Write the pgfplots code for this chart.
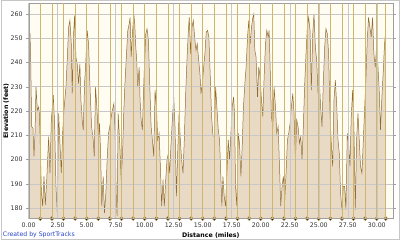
\documentclass[border=0pt]{standalone}
\usepackage{pgfplots}
\pgfplotsset{compat=1.18}
\usepackage{pgfplotstable}
\usepackage{fontspec}
\setmainfont{DejaVu Sans}
\definecolor{plotbg}{RGB}{255,253,242}
\definecolor{areafill}{RGB}{229,213,190}
\definecolor{arealine}{RGB}{145,108,50}
\definecolor{gold}{RGB}{208,182,108}
\definecolor{gridgray}{RGB}{200,200,200}
\definecolor{mkfill}{RGB}{228,205,100}
\definecolor{credit}{RGB}{40,70,200}
\pgfplotstableread{
x y
0.00 253.4
0.115 251.8
0.172 240.9
0.258 213.6
0.37 212.9
0.458 201.3
0.544 210.8
0.63 230.2
0.745 220.4
0.86 221.7
0.917 219.0
0.974 210.8
1.09 186.9
1.204 180.8
1.318 193.1
1.433 181.4
1.548 191.0
1.72 209.5
1.834 194.4
1.949 216.3
2.12 226.5
2.235 214.9
2.35 189.0
2.465 178.0
2.58 219.0
2.694 206.7
2.81 194.4
2.923 210.8
3.038 220.4
3.21 229.9
3.32 240.9
3.44 254.5
3.55 257.3
3.67 247.7
3.75 227.2
3.87 251.8
3.955 259.3
4.07 242.2
4.18 239.5
4.3 231.3
4.41 239.5
4.5 224.5
4.61 216.3
4.7 212.2
4.815 231.3
4.93 240.9
5.04 253.2
5.16 247.7
5.27 231.3
5.42 213.6
5.56 208.1
5.65 201.3
5.76 229.9
5.875 221.7
6.02 208.1
6.1 214.9
6.19 204.0
6.3 180.8
6.42 193.1
6.53 178.0
6.65 186.2
6.76 199.9
6.88 210.8
6.99 213.6
7.11 217.7
7.22 220.4
7.34 223.1
7.45 210.8
7.54 186.2
7.62 176.7
7.71 219.0
7.85 206.7
7.97 191.7
8.08 201.3
8.2 220.4
8.31 232.7
8.43 243.6
8.54 253.2
8.66 255.9
8.74 258.6
8.83 242.2
8.94 251.8
9.06 260.0
9.14 255.9
9.23 246.3
9.31 240.9
9.4 229.9
9.52 238.1
9.6 224.5
9.69 216.3
9.8 212.2
9.89 227.2
9.97 238.1
10.09 251.8
10.2 253.9
10.32 249.1
10.43 231.3
10.55 213.6
10.66 208.1
10.78 201.3
10.89 228.6
11.01 221.7
11.12 208.1
11.24 210.8
11.35 197.2
11.46 180.8
11.58 191.7
11.69 180.8
11.81 191.7
11.92 199.9
12.04 202.6
12.15 194.4
12.27 206.7
12.38 216.3
12.5 225.8
12.61 213.6
12.73 184.9
12.84 202.6
12.96 219.0
13.07 208.1
13.18 199.9
13.3 194.4
13.41 208.1
13.53 227.2
13.64 240.9
13.76 253.2
13.84 258.6
13.96 243.6
14.07 254.5
14.19 257.3
14.3 250.4
14.42 245.0
14.53 247.7
14.65 240.9
14.76 235.4
14.85 227.2
14.96 231.3
15.08 238.1
15.19 243.6
15.3 252.5
15.42 253.2
15.53 250.4
15.65 234.0
15.76 218.0
15.88 210.0
15.99 209.5
16.11 229.9
16.22 221.7
16.34 212.2
16.45 208.1
16.57 191.7
16.65 180.8
16.74 193.1
16.85 184.9
16.97 180.8
17.08 194.4
17.2 208.1
17.31 199.9
17.43 210.8
17.54 221.7
17.66 225.8
17.74 219.0
17.83 189.0
17.94 180.8
18.06 210.8
18.17 206.7
18.29 193.1
18.4 205.4
18.51 221.7
18.63 231.3
18.74 238.1
18.86 250.4
18.97 257.3
19.09 247.7
19.2 254.5
19.32 258.6
19.4 260.0
19.49 245.0
19.6 242.2
19.72 225.8
19.83 238.1
19.95 234.0
20.06 224.5
20.18 217.7
20.29 234.0
20.41 247.7
20.52 253.2
20.64 250.4
20.72 253.2
20.81 238.1
20.92 217.7
21.04 213.6
21.15 229.9
21.27 221.7
21.38 210.8
21.5 213.6
21.61 198.5
21.72 180.8
21.84 189.0
21.95 193.1
22.07 183.5
22.18 194.4
22.3 208.1
22.41 210.8
22.53 214.9
22.64 221.7
22.76 227.2
22.87 219.0
22.99 199.9
23.1 216.3
23.22 213.6
23.33 206.7
23.45 209.5
23.56 199.9
23.67 213.6
23.79 231.3
23.9 243.6
24.02 254.5
24.13 258.6
24.25 253.2
24.36 228.6
24.48 251.8
24.59 260.0
24.71 246.3
24.82 240.9
24.94 227.2
25.05 232.7
25.16 221.7
25.28 213.6
25.39 231.3
25.51 246.3
25.62 253.9
25.74 251.8
25.85 243.6
25.97 219.0
26.08 206.7
26.2 197.2
26.31 224.5
26.43 232.7
26.54 223.1
26.66 208.1
26.77 202.6
26.88 186.2
27.0 179.4
27.11 189.0
27.23 189.0
27.34 179.4
27.46 210.8
27.57 206.7
27.69 197.2
27.8 217.7
27.92 228.6
28.03 213.6
28.15 179.4
28.26 208.1
28.38 219.0
28.49 208.1
28.6 197.2
28.72 194.4
28.83 206.7
28.95 220.4
29.06 232.7
29.18 249.1
29.29 258.6
29.41 254.5
29.52 250.4
29.64 258.6
29.75 243.6
29.87 238.1
29.98 246.3
30.09 239.5
30.21 228.6
30.32 212.2
30.44 225.8
30.55 235.4
30.67 247.7
30.78 253.2
}\elev
\pgfplotstableread{
x y
1 175.7
2 175.7
3 175.7
4 175.7
5 175.7
6 175.7
7 175.7
8 175.7
9 175.7
10 175.7
11 175.7
12 175.7
13 175.7
14 175.7
15 175.7
16 175.7
17 175.7
18 175.7
19 175.7
20 175.7
21 175.7
22 175.7
23 175.7
24 175.7
25 175.7
26 175.7
27 175.7
28 175.7
29 175.7
30 175.7
30.78 175.7
}\markers
\begin{document}
\begin{tikzpicture}
\fill[white] (0,0) rectangle (400bp,240bp);
\draw[gray!45] (0.5bp,0.5bp) rectangle (399.5bp,239.5bp);
\begin{axis}[
  at={(28bp,21bp)}, anchor=south west,
  scale only axis, width=365bp, height=216bp,
  xmin=0, xmax=31.4, ymin=175.7, ymax=264.5,
  axis background/.style={fill=plotbg},
  axis line style={gray!75},
  axis on top,
  clip mode=individual,
  xtick={0,2.5,...,30}, ytick={180,190,...,260},
  x tick label style={/pgf/number format/fixed, /pgf/number format/fixed zerofill, /pgf/number format/precision=2, yshift=2bp},
  /pgf/number format/assume math mode=true,
  tick label style={font=\fontsize{6.3}{7}\selectfont, text=black!80},
  xtick style={draw=none},
  ytick style={gray!75},
  tick align=outside,
  major tick length=2.5bp,
  grid=major, major grid style={gridgray, line width=0.5pt},
  extra x ticks={1,2,3,4,5,6,7,8,9,10,11,12,13,14,15,16,17,18,19,20,21,22,23,24,25,26,27,28,29,30,30.78},
  extra x tick labels={},
  extra x tick style={grid=major, major grid style={gold, line width=0.75pt}, tick style={draw=none}},
  xlabel={\bfseries Distance (miles)},
  ylabel={\bfseries Elevation (feet)},
  label style={font=\fontsize{6.3}{7}\selectfont},
  xlabel style={yshift=6bp},
  ylabel style={yshift=-5bp},
]
\addplot[fill=areafill, draw=none, fill opacity=0.85] table[x=x,y=y] {\elev} \closedcycle;
\addplot[arealine, line width=0.5pt] table[x=x,y=y] {\elev};
\addplot[only marks, mark=*, mark size=2pt, mark options={fill=mkfill, draw=arealine, line width=0.4pt}] table[x=x,y=y] {\markers};
\addplot[only marks, mark=diamond*, mark size=1.1pt, mark options={fill=arealine!80, draw=none}] table[x=x,y=y] {\markers};
\end{axis}
\node[anchor=south west, inner sep=0pt, text=credit, font=\fontsize{6.2}{7}\selectfont] at (2bp,1.5bp) {Created by SportTracks};
\end{tikzpicture}
\end{document}
